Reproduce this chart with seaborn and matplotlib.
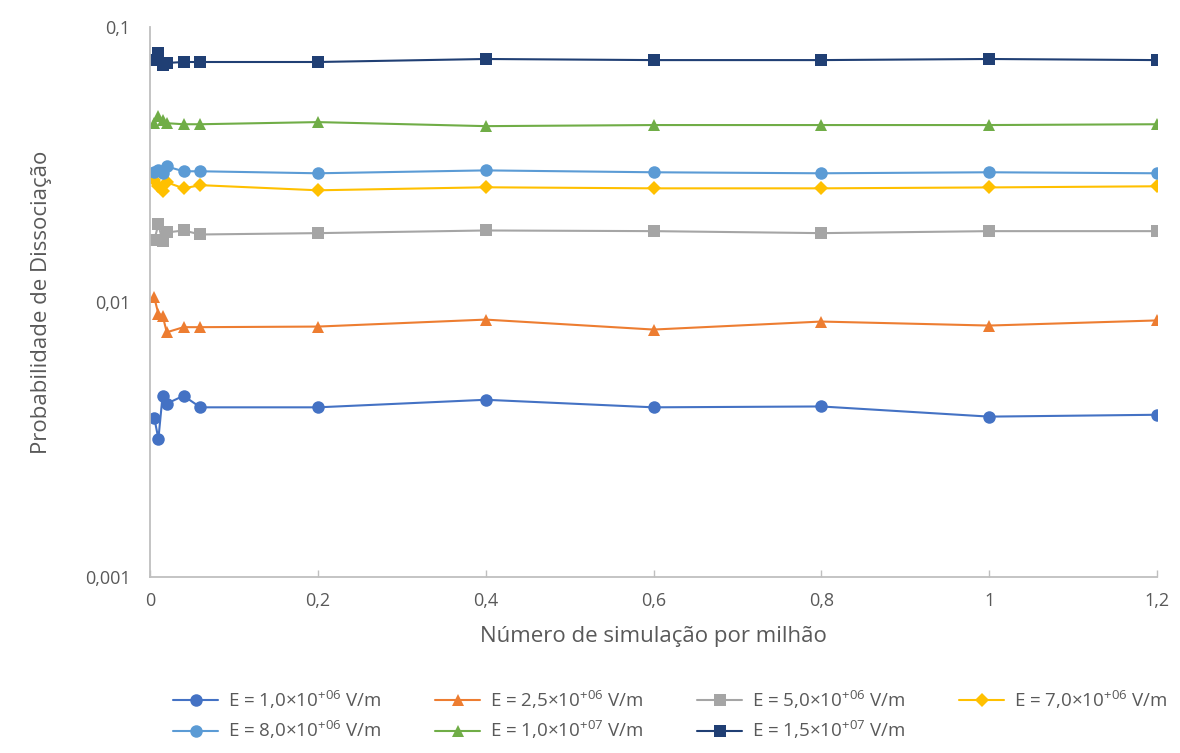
import matplotlib
matplotlib.use("Agg")
import matplotlib.pyplot as plt
import seaborn as sns
import pandas as pd
from matplotlib.ticker import FixedLocator, FixedFormatter, NullLocator

x_vals = [0.005, 0.01, 0.015, 0.02, 0.04, 0.06, 0.2, 0.4, 0.6, 0.8, 1.0, 1.2]

labels = [
    "E = 1,0×10$^{+06}$ V/m",
    "E = 2,5×10$^{+06}$ V/m",
    "E = 5,0×10$^{+06}$ V/m",
    "E = 7,0×10$^{+06}$ V/m",
    "E = 8,0×10$^{+06}$ V/m",
    "E = 1,0×10$^{+07}$ V/m",
    "E = 1,5×10$^{+07}$ V/m",
]

p_1e6 = [0.0038, 0.00318, 0.00456, 0.00427, 0.00456, 0.00414, 0.00414, 0.00441, 0.00414, 0.00417, 0.00383, 0.00389]
p_25e6 = [0.0104, 0.00906, 0.00893, 0.00776, 0.00810, 0.00810, 0.00814, 0.00863, 0.00794, 0.00849, 0.00821, 0.00857]
p_5e6 = [0.01675, 0.01915, 0.0166, 0.0179, 0.0182, 0.0176, 0.0178, 0.0182, 0.0181, 0.0178, 0.0181, 0.0181]
p_7e6 = [0.0277, 0.02635, 0.02527, 0.02724, 0.0259, 0.0266, 0.02548, 0.02613, 0.0259, 0.0259, 0.0261, 0.02635]
p_8e6 = [0.02963, 0.0301, 0.02938, 0.0311, 0.02988, 0.02988, 0.02938, 0.0301, 0.02963, 0.02938, 0.02963, 0.02938]
p_1e7 = [0.04469, 0.0474, 0.0458, 0.04469, 0.0443, 0.0443, 0.0451, 0.0436, 0.0440, 0.0440, 0.0440, 0.0443]
p_15e7 = [0.0758, 0.0804, 0.0727, 0.0740, 0.0746, 0.0746, 0.0746, 0.0765, 0.0758, 0.0758, 0.0765, 0.0758]

series = [p_1e6, p_25e6, p_5e6, p_7e6, p_8e6, p_1e7, p_15e7]
colors = ["#4472C4", "#ED7D31", "#A5A5A5", "#FFC000", "#5B9BD5", "#70AD47", "#203F74"]
markers = ["o", "^", "s", "D", "o", "^", "s"]
msizes = [9, 9, 8, 7, 9, 9, 8]

x_ticks = [0, 0.2, 0.4, 0.6, 0.8, 1.0, 1.2]
x_ticklabels = ["0", "0,2", "0,4", "0,6", "0,8", "1", "1,2"]
y_ticks = [0.001, 0.01, 0.1]
y_ticklabels = ["0,001", "0,01", "0,1"]

sns.set_theme(style="white")
plt.rcParams["font.family"] = ["Open Sans", "DejaVu Sans"]
plt.rcParams["mathtext.default"] = "regular"
text_color = "#595959"

fig = plt.figure(figsize=(11.8, 7.53), dpi=100)
ax = fig.add_axes([150 / 1180, 1 - 577 / 753, (1157 - 150) / 1180, (577 - 27) / 753])

for vals, lab, col, mk, ms in zip(series, labels, colors, markers, msizes):
    df = pd.DataFrame({"x": x_vals, "y": vals})
    sns.lineplot(data=df, x="x", y="y", ax=ax, color=col, marker=mk,
                 markersize=ms, markeredgewidth=0, linewidth=1.5, label=lab,
                 legend=False)

ax.set_yscale("log")
ax.set_xlim(0, 1.2)
ax.set_ylim(0.001, 0.1)
ax.xaxis.set_major_locator(FixedLocator(x_ticks))
ax.xaxis.set_major_formatter(FixedFormatter(x_ticklabels))
ax.yaxis.set_major_locator(FixedLocator(y_ticks))
ax.yaxis.set_major_formatter(FixedFormatter(y_ticklabels))
ax.yaxis.set_minor_locator(NullLocator())
ax.xaxis.set_minor_locator(NullLocator())

for s in ["top", "right"]:
    ax.spines[s].set_visible(False)
for s in ["left", "bottom"]:
    ax.spines[s].set_color("#BFBFBF")
    ax.spines[s].set_linewidth(1.3)

ax.tick_params(axis="x", direction="in", length=5, width=1, color="#BFBFBF",
               labelsize=13, labelcolor=text_color, pad=11, bottom=True)
ax.tick_params(axis="y", length=0, labelsize=13, labelcolor=text_color, pad=14)

ax.set_xlabel("Número de simulação por milhão", fontsize=16, color=text_color, labelpad=11)
ax.set_ylabel("Probabilidade de Dissociação", fontsize=16, color=text_color, labelpad=24)

h, l = ax.get_legend_handles_labels()
order = [0, 4, 1, 5, 2, 6, 3]
leg = fig.legend([h[i] for i in order], [l[i] for i in order], ncol=4,
                 loc="center", bbox_to_anchor=(670 / 1180, 1 - 715 / 753),
                 frameon=False, fontsize=13.5, handlelength=2.4, handletextpad=0.5,
                 columnspacing=2.9, labelspacing=0.45)
for t in leg.get_texts():
    t.set_color(text_color)

fig.savefig("out.png", dpi=100)
